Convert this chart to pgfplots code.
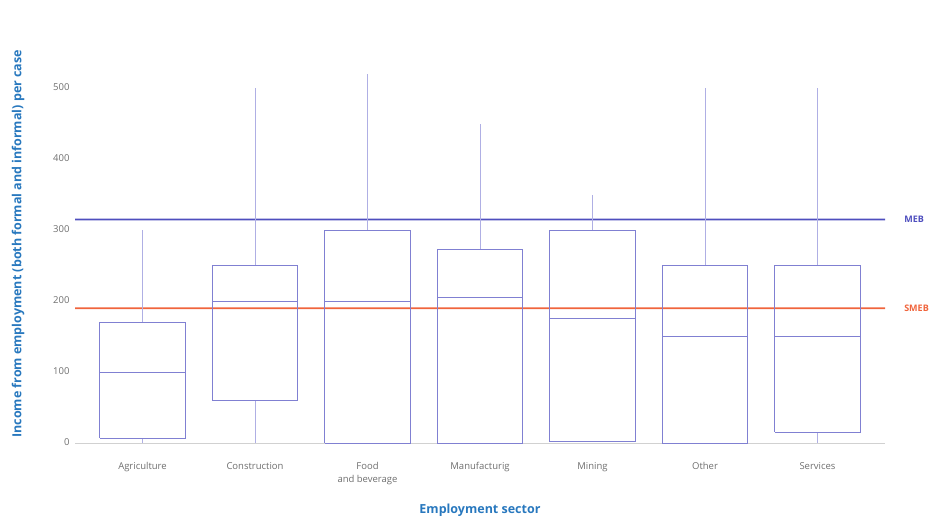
\documentclass[border=0pt]{standalone}
\usepackage{pgfplots}
\pgfplotsset{compat=1.18}
\usepackage{fontspec}
\setmainfont{Open Sans}
\definecolor{boxc}{RGB}{128,128,210}
\definecolor{whiskc}{RGB}{175,175,228}
\definecolor{mebcol}{RGB}{78,78,190}
\definecolor{smebcol}{RGB}{240,100,60}
\definecolor{labc}{RGB}{40,120,190}
\definecolor{tickc}{RGB}{110,110,110}
\begin{document}
\begin{tikzpicture}
\begin{axis}[
  scale only axis, width=810pt, height=383pt,
  xmin=-0.6, xmax=6.6, ymin=0, ymax=540,
  clip=false,
  separate axis lines,
  axis x line*=bottom, axis y line*=left,
  y axis line style={draw=none},
  x axis line style={draw=black!18, -},
  tick style={draw=none},
  xtick={0,1,2,3,4,5,6},
  xticklabels={Agriculture,Construction,{Food\\and beverage},Manufacturig,Mining,Other,Services},
  xticklabel style={align=center, font=\fontsize{9.5}{13}\selectfont, text=tickc, anchor=north},
  typeset ticklabels with strut,
  ytick={0,100,200,300,400,500},
  yticklabel style={font=\fontsize{9.5}{11}\selectfont, text=tickc},
  /pgf/number format/assume math mode=true,
  xticklabel shift=14pt,
  yticklabel shift=2pt,
  xlabel={Employment sector},
  ylabel={Income from employment (both formal and informal) per case},
  xlabel style={font=\bfseries\fontsize{12.5}{14}\selectfont, text=labc, at={(axis description cs:0.5,-0.175)}, anchor=center},
  ylabel style={font=\bfseries\fontsize{12.5}{14}\selectfont, text=labc, at={(axis description cs:-0.0704,0.52)}, anchor=center},
  wsk/.style={draw=whiskc, line width=0.7pt, mark=none},
  bx/.style={draw=boxc, line width=0.9pt, mark=none},
  md/.style={draw=boxc, line width=1.1pt, mark=none},
]
% reference lines: SMEB = 190, MEB = 315 (drawn as thin filled bands)
\addplot[fill=smebcol, draw=none, mark=none] coordinates {(-0.6,188.8) (6.6,188.8) (6.6,191.2) (-0.6,191.2) (-0.6,188.8)};
\addplot[fill=mebcol, draw=none, mark=none] coordinates {(-0.6,313.8) (6.6,313.8) (6.6,316.2) (-0.6,316.2) (-0.6,313.8)};
% whiskers (lower whisker to Q1, Q3 to upper whisker)
\addplot[wsk] coordinates {(0,0) (0,7)};     \addplot[wsk] coordinates {(0,170) (0,300)};
\addplot[wsk] coordinates {(1,0) (1,60)};    \addplot[wsk] coordinates {(1,250) (1,500)};
\addplot[wsk] coordinates {(2,300) (2,520)};
\addplot[wsk] coordinates {(3,273) (3,450)};
\addplot[wsk] coordinates {(4,300) (4,350)};
\addplot[wsk] coordinates {(5,250) (5,500)};
\addplot[wsk] coordinates {(6,0) (6,15)};    \addplot[wsk] coordinates {(6,250) (6,500)};
% boxes (Q1 to Q3)
\addplot[bx] coordinates {(-0.38,7) (0.38,7) (0.38,170) (-0.38,170) (-0.38,7)};
\addplot[bx] coordinates {(0.62,60) (1.38,60) (1.38,250) (0.62,250) (0.62,60)};
\addplot[bx] coordinates {(1.62,0) (2.38,0) (2.38,300) (1.62,300) (1.62,0)};
\addplot[bx] coordinates {(2.62,0) (3.38,0) (3.38,273) (2.62,273) (2.62,0)};
\addplot[bx] coordinates {(3.62,2) (4.38,2) (4.38,300) (3.62,300) (3.62,2)};
\addplot[bx] coordinates {(4.62,0) (5.38,0) (5.38,250) (4.62,250) (4.62,0)};
\addplot[bx] coordinates {(5.62,15) (6.38,15) (6.38,250) (5.62,250) (5.62,15)};
% medians
\addplot[md] coordinates {(-0.38,100) (0.38,100)};
\addplot[md] coordinates {(0.62,200) (1.38,200)};
\addplot[md] coordinates {(1.62,200) (2.38,200)};
\addplot[md] coordinates {(2.62,205) (3.38,205)};
\addplot[md] coordinates {(3.62,175) (4.38,175)};
\addplot[md] coordinates {(4.62,150) (5.38,150)};
\addplot[md] coordinates {(5.62,150) (6.38,150)};
\node[anchor=west, font=\bfseries\fontsize{9}{11}\selectfont, text=mebcol] at (axis cs:6.74,315) {MEB};
\node[anchor=west, font=\bfseries\fontsize{9}{11}\selectfont, text=smebcol] at (axis cs:6.74,190) {SMEB};
\path[draw=none] (rel axis cs:-0.0926,-0.1932) rectangle (rel axis cs:1.0605,1.1567);
\end{axis}
\end{tikzpicture}
\end{document}
